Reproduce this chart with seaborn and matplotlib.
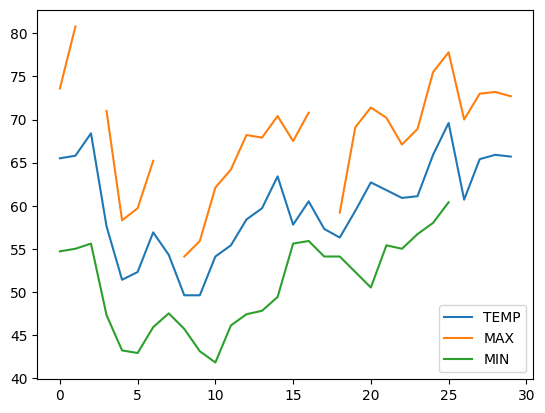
import numpy as np
import pandas as pd
import matplotlib
matplotlib.use("Agg")
import matplotlib.pyplot as plt
import seaborn as sns

nan = np.nan
days = list(range(30))
temp = [65.5, 65.8, 68.4, 57.6, 51.4, 52.3, 56.9, 54.3, 49.6, 49.6,
        54.1, 55.4, 58.4, 59.7, 63.4, 57.8, 60.5, 57.3, 56.3, 59.4,
        62.7, 61.8, 60.9, 61.1, 65.9, 69.6, 60.7, 65.4, 65.9, 65.7]
tmax = [73.6, 80.8, nan, 71.0, 58.3, 59.7, 65.2, nan, 54.1, 55.9,
        62.1, 64.2, 68.2, 67.9, 70.4, 67.5, 70.8, nan, 59.2, 69.1,
        71.4, 70.2, 67.1, 68.9, 75.5, 77.8, 70.0, 73.0, 73.2, 72.7]
tmin = [54.7, 55.0, 55.6, 47.3, 43.2, 42.9, 45.9, 47.5, 45.7, 43.1,
        41.8, 46.1, 47.4, 47.8, 49.4, 55.6, 55.9, 54.1, 54.1, 52.3,
        50.5, 55.4, 55.0, 56.7, 58.0, 60.4, nan, nan, nan, nan]

series = {"TEMP": temp, "MAX": tmax, "MIN": tmin}
frames = []
for name, vals in series.items():
    v = pd.Series(vals, dtype=float)
    seg = v.isna().cumsum()
    d = pd.DataFrame({"day": days, "value": v, "series": name,
                      "seg": name + "_" + seg.astype(str)})
    frames.append(d.dropna(subset=["value"]))
long = pd.concat(frames, ignore_index=True)

fig, ax = plt.subplots(figsize=(6.4, 4.8), dpi=100)
sns.lineplot(data=long, x="day", y="value", hue="series", units="seg",
             estimator=None, ax=ax,
             hue_order=["TEMP", "MAX", "MIN"],
             palette=["#1f77b4", "#ff7f0e", "#2ca02c"])
ax.legend(loc="lower right")
ax.set_xlabel("")
ax.set_ylabel("")
fig.savefig("out.png", bbox_inches="tight")
